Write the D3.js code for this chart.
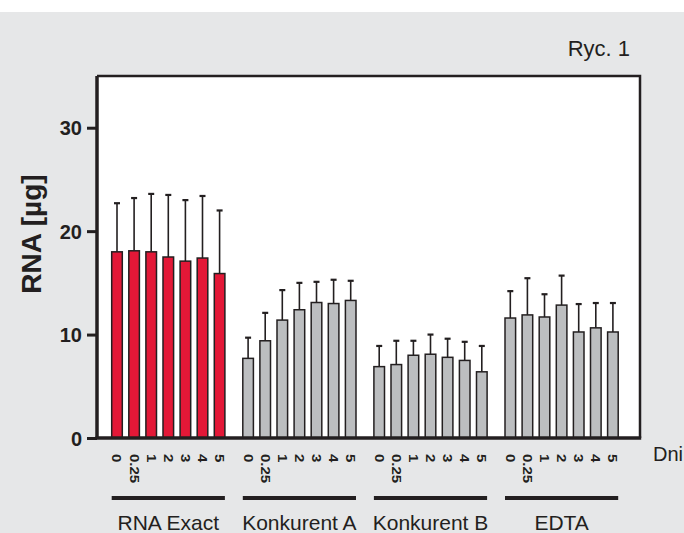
<!DOCTYPE html>
<html><head><meta charset="utf-8">
<script src="https://cdn.jsdelivr.net/npm/d3@7"></script>
<style>
html,body{margin:0;padding:0;background:#fff;}
svg{display:block;}
text{font-family:"Liberation Sans",Arial,Helvetica,sans-serif;fill:#231f20;}
</style></head>
<body><svg id="c" width="684" height="533"></svg>
<script>
const groups = ["RNA Exact", "Konkurent A", "Konkurent B", "EDTA"];
const days = ["0", "0.25", "1", "2", "3", "4", "5"];
const meanRNAExact = [18.0, 18.1, 18.0, 17.5, 17.1, 17.4, 15.9];
const sdRNAExact   = [4.7, 5.1, 5.6, 6.0, 5.9, 6.0, 6.1];
const meanKonkA    = [7.7, 9.4, 11.4, 12.4, 13.1, 13.0, 13.3];
const sdKonkA      = [2.0, 2.7, 2.9, 2.6, 2.0, 2.3, 1.9];
const meanKonkB    = [6.9, 7.1, 8.0, 8.1, 7.8, 7.5, 6.4];
const sdKonkB      = [2.0, 2.3, 1.4, 1.9, 1.8, 1.8, 2.5];
const meanEDTA     = [11.6, 11.9, 11.7, 12.85, 10.25, 10.65, 10.25];
const sdEDTA       = [2.6, 3.55, 2.2, 2.85, 2.7, 2.4, 2.8];
const yTicks = [0, 10, 20, 30];
const xTitle = "Dni";
const yTitle = "RNA [µg]";
const figLabel = "Ryc. 1";

const means = [meanRNAExact, meanKonkA, meanKonkB, meanEDTA];
const sds = [sdRNAExact, sdKonkA, sdKonkB, sdEDTA];
const fills = ["#e31837", "#bcbec0", "#bcbec0", "#bcbec0"];

const data = [];
groups.forEach((g, gi) => days.forEach((d, di) => data.push({g, d, gi, v: means[gi][di], e: sds[gi][di]})));

const svg = d3.select("#c");
const dark = "#231f20";
svg.append("rect").attr("x",0).attr("y",12).attr("width",684).attr("height",521).attr("fill","#e6e7e8");

const L = 97, R = 640, T = 76, B = 438;
svg.append("rect").attr("x",L).attr("y",T).attr("width",R-L).attr("height",B-T).attr("fill","#fff");

const y = d3.scaleLinear().domain([0,35]).range([B,T]);
const x0 = d3.scaleBand().domain(groups).range([108.45, 621.45]).paddingInner(0.087).paddingOuter(0);
const x1 = d3.scaleBand().domain(days).range([0, x0.bandwidth()]).paddingInner(0.38).paddingOuter(0.19);

svg.append("path").attr("d",`M${L},${T}H${R}V${B}`).attr("fill","none").attr("stroke",dark).attr("stroke-width",2.5);

const eb = svg.append("g").attr("stroke",dark);
data.forEach(p => {
  const cx = x0(p.g) + x1(p.d) + x1.bandwidth()/2;
  eb.append("line").attr("x1",cx).attr("x2",cx).attr("y1",y(p.v)).attr("y2",y(p.v+p.e)).attr("stroke-width",1.6);
  eb.append("line").attr("x1",cx-3).attr("x2",cx+3).attr("y1",y(p.v+p.e)).attr("y2",y(p.v+p.e)).attr("stroke-width",2.2);
});

svg.append("g").selectAll("rect").data(data).join("rect")
  .attr("x", p => x0(p.g) + x1(p.d))
  .attr("y", p => y(p.v))
  .attr("width", x1.bandwidth())
  .attr("height", p => B - y(p.v))
  .attr("fill", p => fills[p.gi])
  .attr("stroke", dark).attr("stroke-width", 1.5);

const yAxis = d3.axisLeft(y).tickValues(yTicks).tickSize(10).tickPadding(5).tickFormat(d3.format("d"));
const ga = svg.append("g").attr("transform",`translate(${L},0)`).call(yAxis);
ga.select(".domain").attr("d",`M0,${T}V${B}`).attr("stroke",dark).attr("stroke-width",3.5);
ga.selectAll(".tick line").attr("stroke",dark).attr("stroke-width",3);
ga.selectAll(".tick text").attr("font-size",20).attr("font-weight","bold").attr("fill",dark)
  .attr("font-family","'Liberation Sans',Arial,sans-serif").attr("dy","0.36em");

svg.append("line").attr("x1",L-1.5).attr("x2",R+1.2).attr("y1",B).attr("y2",B).attr("stroke",dark).attr("stroke-width",3.5);

const xl = svg.append("g");
data.forEach(p => {
  const cx = x0(p.g) + x1(p.d) + x1.bandwidth()/2;
  xl.append("text").attr("transform",`translate(${cx},454) rotate(90) scale(1.2,1)`)
    .attr("dy","0.36em").attr("font-size",12.5).attr("font-weight","bold").text(p.d);
});

groups.forEach(g => {
  const a = x0(g) + x1(days[0]);
  const b = x0(g) + x1(days[days.length-1]) + x1.bandwidth();
  svg.append("line").attr("x1",a).attr("x2",b).attr("y1",498).attr("y2",498).attr("stroke",dark).attr("stroke-width",4);
  svg.append("text").attr("x",(a+b)/2).attr("y",530).attr("text-anchor","middle").attr("font-size",21).text(g);
});

svg.append("text").attr("transform","translate(41,234) rotate(-90)").attr("text-anchor","middle")
  .attr("font-size",28).attr("font-weight","bold").text(yTitle);
svg.append("text").attr("x",653).attr("y",461).attr("font-size",20).text(xTitle);
svg.append("text").attr("x",630).attr("y",56).attr("text-anchor","end").attr("font-size",22).text(figLabel);
</script></body></html>
